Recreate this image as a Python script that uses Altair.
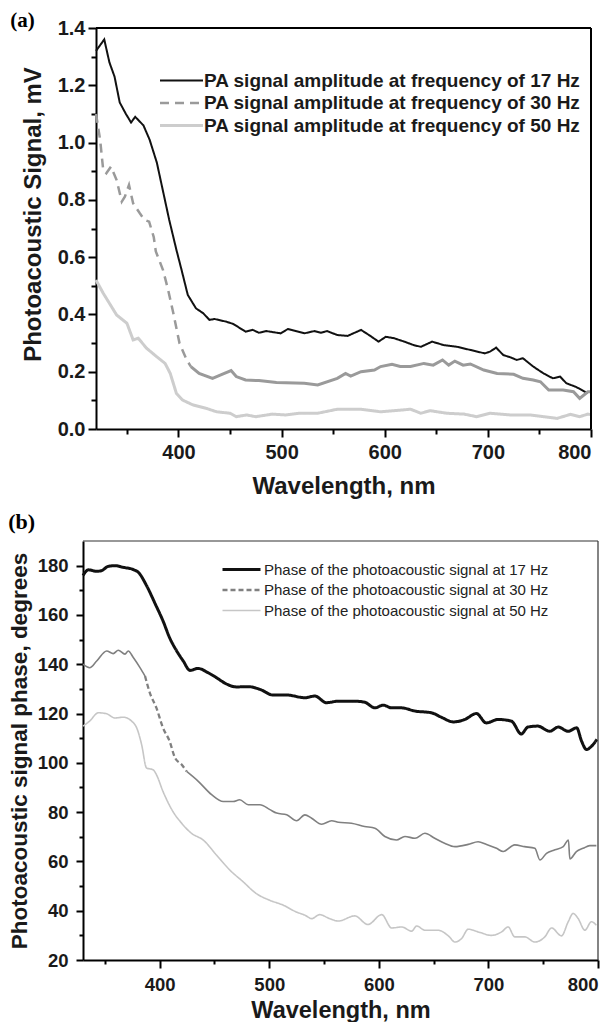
import altair as alt
import pandas as pd

# ---------------- Panel (a): PA signal amplitude ----------------
A_SERIES = ["PA signal amplitude at frequency of 17 Hz",
            "PA signal amplitude at frequency of 30 Hz",
            "PA signal amplitude at frequency of 50 Hz"]

a17_wl = [320, 328, 333, 338, 343, 349, 354, 358, 366, 372, 379, 385, 391, 398, 403,
          409, 417, 424, 430, 435, 446, 453, 465, 472, 478, 485, 499, 506, 522, 532,
          538, 544, 554, 564, 577, 586, 594, 601, 609, 619, 628, 635, 646, 657, 670,
          683, 697, 702, 708, 715, 722, 728, 734, 744, 754, 763, 770, 776, 786, 794, 797]
a17_val = [1.32, 1.36, 1.28, 1.23, 1.14, 1.10, 1.07, 1.09, 1.06, 1.01, 0.93, 0.83, 0.73,
           0.625, 0.555, 0.468, 0.421, 0.404, 0.381, 0.384, 0.375, 0.367, 0.34, 0.346,
           0.336, 0.342, 0.334, 0.349, 0.334, 0.342, 0.336, 0.342, 0.328, 0.325, 0.346,
           0.325, 0.305, 0.322, 0.317, 0.305, 0.293, 0.287, 0.305, 0.293, 0.287, 0.276,
           0.264, 0.27, 0.284, 0.258, 0.25, 0.241, 0.247, 0.218, 0.194, 0.177, 0.183,
           0.16, 0.146, 0.13, 0.125]

a30_dash_wl = [320, 324, 327, 330, 334.5, 340, 345, 348, 352, 356, 362.5, 367, 371.5,
               376, 378, 385, 390, 395, 401, 408, 412]
a30_dash_val = [1.10, 1.01, 0.904, 0.893, 0.916, 0.869, 0.794, 0.811, 0.852, 0.788,
                0.753, 0.73, 0.724, 0.67, 0.62, 0.555, 0.485, 0.404, 0.299, 0.241, 0.218]
a30_solid_wl = [412, 420, 433, 441, 451, 456, 465, 478, 495, 522, 535, 554, 562, 567,
                577, 590, 596, 607, 615, 625, 638, 647, 656, 662, 668, 676, 683, 696,
                709, 725, 734, 744, 751, 759, 773, 783, 789, 797, 800]
a30_solid_val = [0.218, 0.194, 0.177, 0.189, 0.204, 0.183, 0.171, 0.169, 0.162, 0.16,
                 0.154, 0.177, 0.194, 0.185, 0.2, 0.206, 0.218, 0.226, 0.218, 0.218,
                 0.229, 0.223, 0.241, 0.223, 0.237, 0.223, 0.227, 0.206, 0.194, 0.191,
                 0.177, 0.171, 0.165, 0.136, 0.136, 0.13, 0.107, 0.13, 0.13]

a50_wl = [320, 327, 340, 350, 356, 361, 369, 379, 387, 392, 398, 404, 414, 427, 437,
          450, 456, 466, 475, 491, 504, 517, 535, 554, 577, 596, 625, 635, 644, 660,
          677, 689, 702, 722, 741, 754, 767, 780, 789, 797, 800]
a50_val = [0.52, 0.474, 0.398, 0.369, 0.311, 0.317, 0.282, 0.252, 0.229, 0.194, 0.124,
           0.101, 0.084, 0.072, 0.06, 0.055, 0.043, 0.049, 0.043, 0.052, 0.049, 0.055,
           0.055, 0.069, 0.069, 0.06, 0.069, 0.055, 0.064, 0.055, 0.052, 0.043, 0.055,
           0.049, 0.049, 0.043, 0.037, 0.051, 0.043, 0.052, 0.05]

A_X_DOMAIN = [320, 800]
A_Y_DOMAIN = [0, 1.4]
A_X_TICKS = [350, 400, 450, 500, 550, 600, 650, 700, 750, 800]
A_Y_TICKS = [round(i * 0.1, 1) for i in range(15)]

# ---------------- Panel (b): PA signal phase ----------------
B_SERIES = ["Phase of the photoacoustic signal at 17 Hz",
            "Phase of the photoacoustic signal at 30 Hz",
            "Phase of the photoacoustic signal at 50 Hz"]

b17_wl = [330, 335, 342.5, 347, 353, 359, 367, 376, 380.5, 388, 396, 403, 409, 415.5,
          421.5, 427.6, 435, 444, 452, 459.6, 470, 481, 491.5, 503.6, 516, 532.5, 541.7,
          552, 563, 578, 587, 596.4, 604, 611.6, 620.8, 633, 648, 657, 668, 678.5, 689,
          698, 709, 721, 730, 736, 745, 756, 763.7, 772.8, 780.5, 785, 789.5, 794, 799]
b17_val = [176, 178.3, 177.7, 178, 179.7, 180, 179.3, 178.4, 177.3, 171.9, 164.4, 157.6,
           150.8, 145.4, 141.3, 137.5, 138.3, 136.6, 134.5, 132.3, 130.8, 130.9, 129.8,
           127.5, 127.5, 126.4, 127.1, 124.4, 125, 125, 124.6, 122.3, 123.4, 122.3,
           122.3, 121, 120.3, 118.5, 116.6, 117.6, 120, 116.2, 117.6, 116.9, 111.7,
           114.5, 114.9, 112.8, 114.5, 112.8, 114.2, 108.8, 105.4, 106.7, 109.5]

b30_head_wl = [330, 336, 342.5, 351.6, 357.6, 362.2, 368.3, 371.3, 375.9, 382, 386.6]
b30_head_val = [140, 138.6, 141.3, 145.4, 144.3, 145.7, 144.1, 145.4, 142.7, 138.6, 135.2]
b30_dash_wl = [386.6, 391, 397, 403, 409, 414, 420, 424.6]
b30_dash_val = [135.2, 128.4, 122.3, 114.2, 108.8, 102, 99.3, 96.5]
b30_tail_wl = [424.6, 435.2, 447.4, 458, 467, 473, 480.8, 491.5, 500.6, 506.7, 515.9,
               525, 532.5, 538.7, 547.8, 556.9, 563, 575, 587, 596.4, 605.5, 616, 623.8,
               633, 642, 651, 660, 669.4, 681.5, 690.6, 698.3, 707.4, 713.5, 724, 733,
               742.4, 747, 753, 760.7, 768.3, 773, 774.3, 780.3, 786.4, 792.5, 798.5]
b30_tail_val = [96.5, 92.5, 87.1, 84.3, 84.3, 85, 83, 83, 81, 79.6, 78.9, 76.5, 78.9,
                77.5, 75.1, 76.5, 75.9, 75.5, 74.2, 73.5, 70.1, 68.7, 70.1, 69.4, 71.4,
                69.4, 67.4, 66, 66.9, 68, 66.9, 65.3, 64, 66.7, 66, 65.3, 60.6, 63.3,
                64.7, 66, 68.7, 61, 64, 65.3, 66.4, 66.4]

b50_wl = [330, 336, 344, 351.6, 359, 366.8, 374.4, 379, 383.5, 388, 394, 397, 403, 412,
          420, 429, 439.6, 451.8, 464, 476, 488, 500, 512.5, 524.6, 532.5, 538.7, 546,
          555, 563, 578, 590, 602.6, 611.7, 620.8, 630, 634.5, 642, 654, 663.4, 669.5,
          675.5, 681.6, 690.7, 702.8, 712, 718, 724, 733, 742.4, 751.5, 757.6, 766.7,
          772.8, 777.3, 781.9, 788, 794, 798.5]
b50_val = [114.9, 116.9, 120.3, 119.9, 118.2, 118.5, 116.9, 114.2, 107.4, 97.9, 97.2,
           95.2, 88.4, 80.3, 75.5, 71.4, 68.7, 62.6, 56.5, 51.8, 47, 44.3, 42.3, 39.5,
           38.2, 36.8, 38.4, 36.8, 35.8, 37.9, 34.4, 38.4, 33, 33.4, 31.7, 33.8, 32.1,
           32.1, 29.8, 27.3, 28.7, 32.5, 31.4, 30, 31.4, 33.4, 29.4, 29.4, 27.3, 29.4,
           33, 29.8, 35.5, 38.9, 36.8, 32.1, 35.5, 34.1]

B_X_DOMAIN = [330, 800]
B_Y_DOMAIN = [20, 190]
B_X_TICKS = [350, 400, 450, 500, 550, 600, 650, 700, 750, 800]
B_Y_TICKS = list(range(20, 190, 10))

FONT = "Liberation Sans"
SERIF = "Liberation Serif"


def df(wl, val, name):
    return pd.DataFrame({"wl": wl, "val": val, "series": name})


# ---------------- build panel (a) ----------------
a_main = pd.concat([df(a17_wl, a17_val, A_SERIES[0]),
                    df(a30_dash_wl, a30_dash_val, A_SERIES[1]),
                    df(a50_wl, a50_val, A_SERIES[2])])
a_cont = df(a30_solid_wl, a30_solid_val, A_SERIES[1])

ax_a = alt.X("wl:Q",
             scale=alt.Scale(domain=A_X_DOMAIN, range=[13, 508], nice=False, zero=False),
             axis=alt.Axis(values=A_X_TICKS, title="Wavelength, nm",
                           labelExpr="datum.value % 100 === 0 ? datum.label : ''",
                           tickSize={"condition": {"test": "datum.value % 100 === 0", "value": 8}, "value": 5},
                           labelFontSize=20, titleFontSize=24, labelPadding=5.5, titlePadding=12))
ay_a = alt.Y("val:Q",
             scale=alt.Scale(domain=A_Y_DOMAIN, nice=False, zero=False),
             axis=alt.Axis(values=A_Y_TICKS, title="Photoacoustic Signal, mV", offset=-13,
                           labelExpr="round(datum.value*10) % 2 === 0 ? format(datum.value, '.1f') : ''",
                           tickSize={"condition": {"test": "round(datum.value*10) % 2 === 0", "value": 8}, "value": 5},
                           labelFontSize=20, titleFontSize=24, labelPadding=3, titlePadding=12,
                           titleY=186))

leg_a = alt.Legend(orient="none", legendX=89, legendY=43, title=None,
                   symbolType="M-4.3,0L4.3,0", symbolSize=100, symbolStrokeWidth=2,
                   labelFont=FONT, labelFontWeight="bold", labelFontSize=19,
                   labelColor="#1a1a1a", labelOffset=13, rowPadding=2.5, padding=0,
                   labelLimit=800)

lines_a = alt.Chart(a_main).mark_line().encode(
    x=ax_a, y=ay_a,
    color=alt.Color("series:N", scale=alt.Scale(domain=A_SERIES, range=["#111111", "#9a9a9a", "#cdcdcd"]), legend=leg_a),
    strokeDash=alt.StrokeDash("series:N", scale=alt.Scale(domain=A_SERIES, range=[[1, 0], [9, 6], [1, 0]]), legend=leg_a),
    strokeWidth=alt.StrokeWidth("series:N", scale=alt.Scale(domain=A_SERIES, range=[2, 3, 3]), legend=leg_a),
)
cont_a = alt.Chart(a_cont).mark_line(color="#9a9a9a", strokeWidth=3).encode(x=ax_a, y=ay_a)

top_border_a = alt.Chart(pd.DataFrame({"wl": [A_X_DOMAIN[0]], "wl2": [A_X_DOMAIN[1]], "val": [A_Y_DOMAIN[1]]})).mark_rule(
    color="black", strokeWidth=2).encode(x=ax_a, x2="wl2:Q", y=ay_a)
right_border_a = alt.Chart(pd.DataFrame({"wl": [A_X_DOMAIN[1]], "val": [A_Y_DOMAIN[0]], "val2": [A_Y_DOMAIN[1]]})).mark_rule(
    color="black", strokeWidth=2).encode(x=ax_a, y=ay_a, y2="val2:Q")

panel_a = alt.layer(lines_a, cont_a, top_border_a, right_border_a).properties(
    width=508, height=401,
    title=alt.Title("(a)", anchor="start", font=SERIF, fontSize=21, fontWeight="bold",
                    color="black", dx=-11, offset=-13))

# ---------------- build panel (b) ----------------
b_main = pd.concat([df(b17_wl, b17_val, B_SERIES[0]),
                    df(b30_dash_wl, b30_dash_val, B_SERIES[1]),
                    df(b50_wl, b50_val, B_SERIES[2])])
b_head = df(b30_head_wl, b30_head_val, "head")
b_tail = df(b30_tail_wl, b30_tail_val, "tail")
b_extra = pd.concat([b_head, b_tail])

ax_b = alt.X("wl:Q",
             scale=alt.Scale(domain=B_X_DOMAIN, nice=False, zero=False),
             axis=alt.Axis(values=B_X_TICKS, title="Wavelength, nm",
                           labelExpr="datum.value % 100 === 0 ? datum.label : ''",
                           tickSize={"condition": {"test": "datum.value % 100 === 0", "value": 8}, "value": 4},
                           labelFontSize=18.5, titleFontSize=23.5, labelPadding=7, titlePadding=5))
ay_b = alt.Y("val:Q",
             scale=alt.Scale(domain=B_Y_DOMAIN, nice=False, zero=False),
             axis=alt.Axis(values=B_Y_TICKS, title="Photoacoustic signal phase, degrees",
                           labelExpr="datum.value % 20 === 0 ? datum.label : ''",
                           tickSize={"condition": {"test": "datum.value % 20 === 0", "value": 7}, "value": 4},
                           labelFontSize=18.5, titleFontSize=22.5, labelPadding=8, titlePadding=6))

leg_b = alt.Legend(orient="none", legendX=151, legendY=21, title=None,
                   symbolType="M-3.8,0L3.8,0", symbolSize=100, symbolStrokeWidth=2,
                   labelFont=FONT, labelFontWeight="normal", labelFontSize=15,
                   labelColor="#222222", labelOffset=15, rowPadding=4.5, padding=0,
                   labelLimit=800)

lines_b = alt.Chart(b_main).mark_line(interpolate="monotone").encode(
    x=ax_b, y=ay_b,
    color=alt.Color("series:N", scale=alt.Scale(domain=B_SERIES, range=["#111111", "#808080", "#c6c6c6"]), legend=leg_b),
    strokeDash=alt.StrokeDash("series:N", scale=alt.Scale(domain=B_SERIES, range=[[1, 0], [5, 3], [1, 0]]), legend=leg_b),
    strokeWidth=alt.StrokeWidth("series:N", scale=alt.Scale(domain=B_SERIES, range=[3, 1.6, 2]), legend=leg_b),
)
extra_b = alt.Chart(b_extra).mark_line(interpolate="monotone", color="#808080", strokeWidth=1.6).encode(
    x=ax_b, y=ay_b, detail="series:N")

top_border_b = alt.Chart(pd.DataFrame({"wl": [B_X_DOMAIN[0]], "wl2": [B_X_DOMAIN[1]], "val": [B_Y_DOMAIN[1]]})).mark_rule(
    color="#333333", strokeWidth=1.2).encode(x=ax_b, x2="wl2:Q", y=ay_b)
right_border_b = alt.Chart(pd.DataFrame({"wl": [B_X_DOMAIN[1]], "val": [B_Y_DOMAIN[0]], "val2": [B_Y_DOMAIN[1]]})).mark_rule(
    color="#333333", strokeWidth=1.2).encode(x=ax_b, y=ay_b, y2="val2:Q")

panel_b = alt.layer(lines_b, extra_b, top_border_b, right_border_b).properties(
    width=515, height=419,
    title=alt.Title("(b)", anchor="start", font=SERIF, fontSize=22, fontWeight="bold",
                    color="black", offset=6))

chart = alt.vconcat(panel_a, panel_b, spacing=12).resolve_scale(
    color="independent", strokeDash="independent", strokeWidth="independent"
).resolve_legend(
    color="independent", strokeDash="independent", strokeWidth="independent"
).properties(
    padding={"left": 0, "top": 2, "right": 0, "bottom": 0}
).configure_view(strokeWidth=0).configure_axis(
    grid=False, domainColor="black", domainWidth=2, tickColor="black", tickWidth=2,
    labelFont=FONT, labelFontWeight="bold", labelColor="#1a1a1a",
    titleFont=FONT, titleFontWeight="bold", titleColor="#1a1a1a"
)

chart.save("out.html", embed_options={"renderer": "svg", "actions": False})
